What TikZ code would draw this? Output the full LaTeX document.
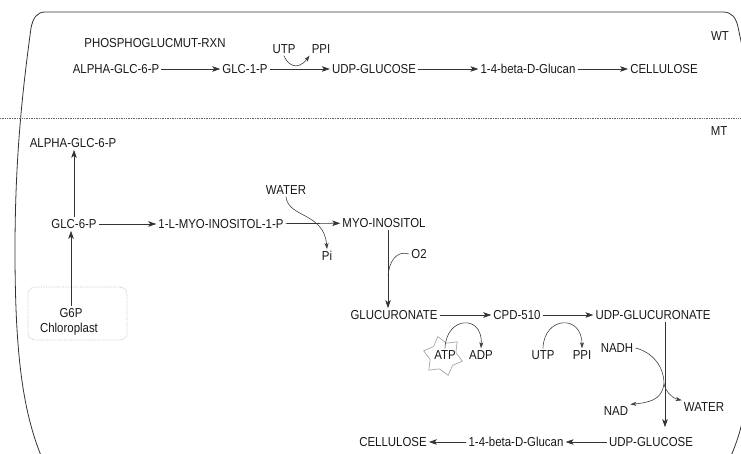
\documentclass[tikz,border=0pt]{standalone}
\usepackage{fontspec}
\setmainfont[FakeStretch=0.88]{Liberation Sans}
\usetikzlibrary{arrows.meta,shapes.geometric}
\begin{document}
\begin{tikzpicture}[x=1pt,y=-1pt,
  lbl/.style={font=\fontsize{13}{15}\selectfont, text=black!90, inner sep=2pt},
  rx/.style={draw=black!80, line width=0.7pt, -{Stealth[length=8pt,width=5.5pt,inset=2pt]}},
  side/.style={draw=black!75, line width=0.6pt},
  sidearrow/.style={side, -{Stealth[length=6pt,width=4pt,inset=1.5pt]}},
  chlbox/.style={draw=black!25, densely dotted, rounded corners=7pt, line width=0.7pt, minimum width=99pt, minimum height=53pt},
  atpstar/.style={star, star points=6, star point ratio=1.5, draw=black!35, line width=0.7pt, minimum size=40pt, inner sep=0pt}
]
\useasboundingbox (0,0) rectangle (741,453);
\clip (0,0) rectangle (741,453);
% outline
\draw[black!80, line width=0.8pt] (745,60) -- (738,27) .. controls (736,18) and (732,12) .. (723,12) -- (45,12) .. controls (37,12) and (33,18) .. (31,28) .. controls (24,80) and (15,150) .. (15,250) .. controls (15,350) and (22,410) .. (42,458);
\draw[black!80, line width=0.8pt] (748,380) .. controls (745,420) and (738,440) .. (730,458);
% separator
\draw[black!60, line width=0.7pt, densely dotted] (0,118) -- (741,118);

% ---------- WT ----------
\node[lbl] (phos) at (155,43) {PHOSPHOGLUCMUT-RXN};
\node[lbl] (wt) at (720,36) {WT};
\node[lbl] (a1) at (116,69) {ALPHA-GLC-6-P};
\node[lbl] (g1p) at (245,69) {GLC-1-P};
\node[lbl] (udpg1) at (374,69) {UDP-GLUCOSE};
\node[lbl] (gl1) at (528,69) {1-4-beta-D-Glucan};
\node[lbl] (cel1) at (664,69) {CELLULOSE};
\node[lbl] (utp1) at (284,49) {UTP};
\node[lbl] (ppi1) at (321,49) {PPI};
\draw[rx] (a1) -- (g1p);
\draw[rx] (g1p) -- (udpg1);
\draw[rx] (udpg1) -- (gl1);
\draw[rx] (gl1) -- (cel1);
\draw[sidearrow] (utp1.south) .. controls (287,64) and (297,72) .. (ppi1.south west);

% ---------- MT ----------
\node[lbl] (mt) at (719,131) {MT};
\node[lbl] (a2) at (73,143) {ALPHA-GLC-6-P};
\node[lbl] (g6p) at (74,224) {GLC-6-P};
\node[lbl] (ino1p) at (221,224) {1-L-MYO-INOSITOL-1-P};
\node[lbl] (myo) at (384,223) {MYO-INOSITOL};
\node[lbl] (water1) at (286,190) {WATER};
\node[lbl] (pi1) at (327,256) {Pi};
\node[lbl] (o2) at (419,254) {O2};
\node[lbl] (gluc) at (394,315) {GLUCURONATE};
\node[lbl] (cpd) at (517,315) {CPD-510};
\node[lbl] (udpgr) at (653,315) {UDP-GLUCURONATE};
\node[atpstar, rotate=15] (star) at (443,356) {};
\node[lbl] (atp) at (445,355) {ATP};
\node[lbl] (adp) at (481,355) {ADP};
\node[lbl] (utp2) at (543,355) {UTP};
\node[lbl] (ppi2) at (582,355) {PPI};
\node[lbl] (nadh) at (617,348) {NADH};
\node[lbl] (nad) at (616,411) {NAD};
\node[lbl] (water2) at (704,407) {WATER};
\node[lbl] (udpg2) at (651,442) {UDP-GLUCOSE};
\node[lbl] (gl2) at (516,442) {1-4-beta-D-Glucan};
\node[lbl] (cel2) at (393,442) {CELLULOSE};
\node[chlbox] (chl) at (77.5,313.5) {};
\node[lbl] (g6pt) at (71,313) {G6P};
\node[lbl] (chlt) at (69,329) {Chloroplast};

\draw[rx] (g6p.north) -- (g6p.north |- a2.south);
\draw[rx] (g6pt.north) -- (g6pt.north |- g6p.south);
\draw[rx] (g6p) -- (ino1p);
\draw[rx] (ino1p) -- (myo);
\draw[sidearrow] (water1.south) .. controls (288,218) and (324,212) .. (pi1.north);
\draw[rx] ([xshift=4pt]myo.south) -- ([xshift=4pt]myo.south |- gluc.north);
\coordinate (j1) at (388,276);
\draw[side] (o2.west) .. controls (396,250) and (389,262) .. (j1);
\draw[rx] (gluc) -- (cpd);
\draw[rx] (cpd) -- (udpgr);
\draw[sidearrow] (atp.north) .. controls (446,316) and (483,314) .. (adp.north);
\draw[sidearrow] (utp2.north) .. controls (544,316) and (582,314) .. (ppi2.north);
\draw[rx, shorten >=8pt] ([xshift=12pt]udpgr.south) -- ([xshift=12pt]udpgr.south |- udpg2.north);
\coordinate (n1) at (664,384);
\draw[side] (nadh.east) .. controls (652,352) and (664,366) .. (n1);
\draw[sidearrow] (n1) .. controls (662,396) and (656,402) .. (nad.north east);
\draw[sidearrow] (n1) .. controls (666,392) and (672,398) .. (water2.north west);
\draw[rx] (udpg2) -- (gl2);
\draw[rx] (gl2) -- (cel2);
\end{tikzpicture}
\end{document}
